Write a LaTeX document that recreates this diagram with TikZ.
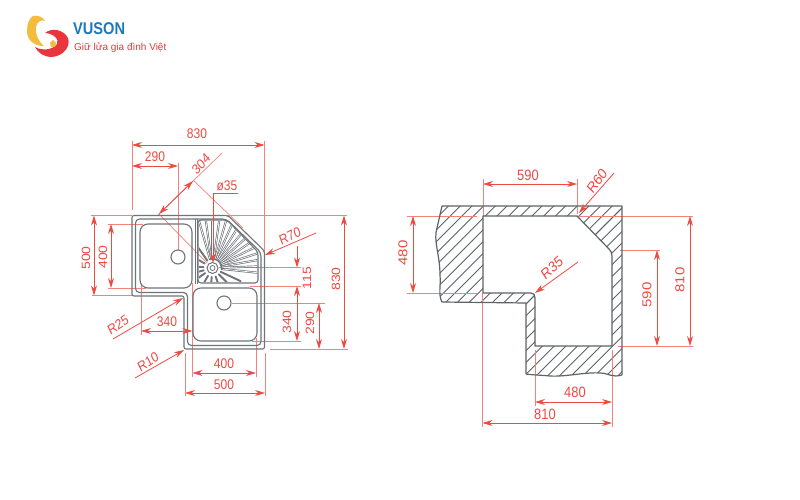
\documentclass[tikz,border=0pt]{standalone}
\usepackage{fontspec}
\setmainfont{Liberation Sans}
\usetikzlibrary{arrows.meta}
\definecolor{dimred}{HTML}{EE4A42}
\definecolor{extred}{HTML}{F4827B}
\definecolor{steel}{HTML}{6E7478}
\definecolor{logoblue}{HTML}{1E78BE}
\definecolor{logored}{HTML}{E8363C}
\definecolor{logoyel}{HTML}{F4BC3C}
\tikzset{
 x=1pt,y=-1pt,
 dimline/.style={draw=dimred,line width=.8pt,{Stealth[length=10pt,width=6pt]}-{Stealth[length=10pt,width=6pt]}},
 leader/.style={draw=dimred,line width=.8pt,-{Stealth[length=10pt,width=6pt]}},
 extline/.style={draw=extred,line width=.7pt},
 dimtext/.style={text=dimred,font=\fontsize{14}{14}\selectfont,inner sep=0pt,xscale=.86},
 bigtext/.style={text=dimred,font=\fontsize{15}{15}\selectfont,inner sep=0pt,xscale=.86},
 sinkline/.style={draw=steel,line width=1.1pt},
 wallline/.style={draw=steel!85!black,line width=1.2pt,line join=round},
 hatchline/.style={draw=steel!85!black,line width=.9pt},
}
\begin{document}
\begin{tikzpicture}
\useasboundingbox[fill=white] (0,0) rectangle (800,500);

% ---------- logo
\fill[logoyel] (33,16) .. controls (38,15) and (43,17) .. (45,21)
  .. controls (41,19) and (37,22) .. (36,27) .. controls (35,34) and (38,41) .. (44,46)
  .. controls (34,46) and (27,40) .. (27,31) .. controls (27,24) and (29,19) .. (33,16) -- cycle;
\fill[logored] (45,33) .. controls (52,27) and (64,30) .. (68,38)
  .. controls (71,47) and (63,56) .. (52,57) .. controls (44,57) and (38,53) .. (35,47)
  .. controls (42,51) and (53,50) .. (57,44) .. controls (60,39) and (52,33) .. (45,33) -- cycle;
\fill[logoyel] (50,43) -- (53,40) -- (56,43) -- (55,47) -- (51,47) -- cycle;
\node[text=logoblue,font=\bfseries\fontsize{17}{17}\selectfont,inner sep=0pt,anchor=west,xscale=.86] (brand) at (73,29) {VUSON};
\node[text=logored,font=\fontsize{10}{10}\selectfont,inner sep=0pt,anchor=west] (slogan) at (74,48) {Giữ lửa gia đình Việt};

% ---------- left sink: extension lines
\draw[extline] (132,141) -- (132,210);
\draw[extline] (178,163) -- (178,250);
\draw[extline] (264.5,141) -- (264.5,340);
\draw[extline] (159,214) -- (207,263);
\draw[extline] (193,180) -- (243,228);
\draw[extline] (158,215) -- (222,153);
\draw[extline] (91,215.5) -- (132,215.5);
\draw[extline] (218,215.5) -- (347,215.5);
\draw[extline] (108,224) -- (143,224);
\draw[extline] (108,288) -- (146,288);
\draw[extline] (92,295.5) -- (132,295.5);
\draw[extline] (219,267.5) -- (301,267.5);
\draw[extline] (250,286) -- (301,286);
\draw[extline] (252,341) -- (301,341);
\draw[extline] (232,303) -- (325,303);
\draw[extline] (270,349) -- (348,349);
\draw[extline] (141,285) -- (141,335);
\draw[extline] (192.5,283) -- (192.5,377);
\draw[extline] (256,338) -- (256,377);
\draw[extline] (185,353) -- (185,396);
\draw[extline] (265,353) -- (265,396);

% ---------- left sink: body
\draw[sinkline,rounded corners=2pt] (132,215.5) -- (228,215.5) -- (264.5,251) -- (264.5,349) -- (184,349) -- (184,296) -- (132,296) -- cycle;
\draw[sinkline,rounded corners=4pt] (135.5,219) -- (226.5,219) -- (261,252.5) -- (261,345.5) -- (187.5,345.5) -- (187.5,292.5) -- (135.5,292.5) -- cycle;
\draw[sinkline,rounded corners=8pt] (140,224) rectangle (192,288);
\draw[sinkline,rounded corners=8pt] (193,288) rectangle (257,341);
\draw[sinkline,fill=white] (178,257) circle (7);
\draw[sinkline,fill=white] (224,303) circle (7);
\draw[sinkline] (195.5,219) -- (195.5,284);
\draw[sinkline] (197.5,219) -- (197.5,284);
\begin{scope}
 \clip (199,221) -- (226,221) -- (257,252) -- (257,282) -- (199,282) -- cycle;
 \foreach \a in {-6,2,10,18,26,34,42,50,58,66,74,82,90,98,106}{
  \draw[steel,line width=2.1pt,line cap=round] (212.5,268)++(-\a:9) -- ++(-\a:70);
  \draw[white,line width=.7pt,line cap=round] (212.5,268)++(-\a:10) -- ++(-\a:70);
 }
 \foreach \a in {125,150,175,195,215,240,265,290,315,335}{
  \draw[steel,line width=1.9pt,line cap=round] (212.5,268)++(-\a:9) -- ++(-\a:22);
 }
\end{scope}
\draw[sinkline,rounded corners=3pt] (198,220) -- (227,220) -- (258,252) -- (258,283) -- (198,283) -- cycle;
\draw[steel,line width=1pt,fill=white] (212.5,268) circle (5.5);
\draw[steel,line width=.8pt] (212.5,268) circle (2.5);

% ---------- left sink: dimensions
\draw[dimline] (132,145) -- (264.5,145);
\draw[dimline] (132,166) -- (178,166);
\draw[dimline] (94,215.5) -- (94,295.5);
\draw[dimline] (111,224) -- (111,288);
\draw[dimline] (344,215.5) -- (344,349);
\draw[dimline] (319,303) -- (319,349);
\draw[dimline] (297,286) -- (297,341);
\draw[dimline] (141,331) -- (192.5,331);
\draw[dimline] (192.5,373) -- (256,373);
\draw[dimline] (185,393) -- (265,393);
\draw[dimline] (159,214) -- (193,181);
\draw[leader] (297,246) -- (297,267.5);
\draw[leader] (213,193) -- (213,263);
\draw[dimred,line width=.8pt] (213,193) -- (238,193);
\draw[leader] (316,233) -- (265,255);
\draw[leader] (113,339) -- (183,298);
\draw[leader] (135,378) -- (184,350);

\node[dimtext] (n830a) at (197,134) {830};
\node[dimtext] (n290a) at (155,157) {290};
\node[dimtext,rotate=45] (n304) at (201,164) {304};
\node[dimtext] (nphi) at (227,186) {ø35};
\node[dimtext,rotate=23] (nr70) at (290,236) {R70};
\node[dimtext,rotate=90] (n500a) at (86,258) {500};
\node[dimtext,rotate=90] (n400a) at (103,257) {400};
\node[dimtext,rotate=90] (n115) at (307,278) {115};
\node[dimtext,rotate=90] (n830b) at (336,279) {830};
\node[dimtext,rotate=90] (n340a) at (287,322) {340};
\node[dimtext,rotate=90] (n290b) at (310,323) {290};
\node[dimtext] (n340b) at (167,322) {340};
\node[dimtext] (n400b) at (224,364) {400};
\node[dimtext] (n500b) at (224,385) {500};
\node[dimtext,rotate=30] (nr25) at (118,325) {R25};
\node[dimtext,rotate=30] (nr10) at (148,362) {R10};

% ---------- right plan: hatching
\begin{scope}[even odd rule]
 \clip
  (442,206) -- (622,206) -- (622,375) .. controls (612,378) and (608,373) .. (600,373)
  .. controls (585,372) and (565,377) .. (550,376) .. controls (540,375) and (532,375) .. (526,374)
  -- (526,303) -- (442,302) .. controls (438,295) and (441,285) .. (440,275)
  .. controls (440,255) and (433,240) .. (437,228) -- cycle
  (483,216) -- (577,216) -- (610,250) -- (612,253) -- (612,346) -- (535,346) -- (535,296) -- (532,293) -- (483,293) -- cycle;
 \foreach \k in {0,...,45}{
  \draw[hatchline] ({440+\k*11.7},390) -- ++(200,-200);
  \draw[hatchline] ({440-\k*11.7},390) -- ++(200,-200);
 }
\end{scope}
\draw[extline] (483,179) -- (483,216);
\draw[extline] (482.5,293) -- (482.5,427);
\draw[extline] (577,179) -- (577,214);
\draw[extline] (407,216) -- (477,216);
\draw[extline] (407,293) -- (477,293);
\draw[extline] (577,216) -- (693,216);
\draw[extline] (620,250) -- (660,250);
\draw[extline] (618,346) -- (693,346);
\draw[extline] (535,350) -- (535,406);
\draw[extline] (612,350) -- (612,427);

\draw[wallline] (442,206) -- (622,206) -- (622,375) .. controls (612,378) and (608,373) .. (600,373)
  .. controls (585,372) and (565,377) .. (550,376) .. controls (540,375) and (532,375) .. (526,374)
  -- (526,303) -- (442,302) .. controls (438,295) and (441,285) .. (440,275)
  .. controls (440,255) and (433,240) .. (437,228) -- cycle;
\draw[wallline] (483,293) -- (483,216) -- (577,216) -- (609,249)
  .. controls (611,251) and (612,253) .. (612,256) -- (612,346) -- (535,346) -- (535,298)
  .. controls (535,295) and (534,293) .. (531,293) -- cycle;

% ---------- right plan: dimensions
\draw[dimline] (483,184) -- (577,184);
\draw[dimline] (413,216) -- (413,293);
\draw[dimline] (690,216) -- (690,346);
\draw[dimline] (657,250) -- (657,346);
\draw[dimline] (535,402) -- (612,402);
\draw[dimline] (482.5,423) -- (612,423);
\draw[leader] (614,173) -- (579,213);
\draw[leader] (578,262) -- (535,293);

\node[bigtext] (n590a) at (528,175) {590};
\node[bigtext,rotate=90] (n480a) at (403,253) {480};
\node[bigtext,rotate=50] (nr60) at (597,181) {R60};
\node[bigtext,rotate=38] (nr35) at (552,268) {R35};
\node[bigtext,rotate=90] (n810a) at (680,280) {810};
\node[bigtext,rotate=90] (n590b) at (647,295) {590};
\node[bigtext] (n480b) at (575,392) {480};
\node[bigtext] (n810b) at (545,414) {810};
\end{tikzpicture}
\end{document}
